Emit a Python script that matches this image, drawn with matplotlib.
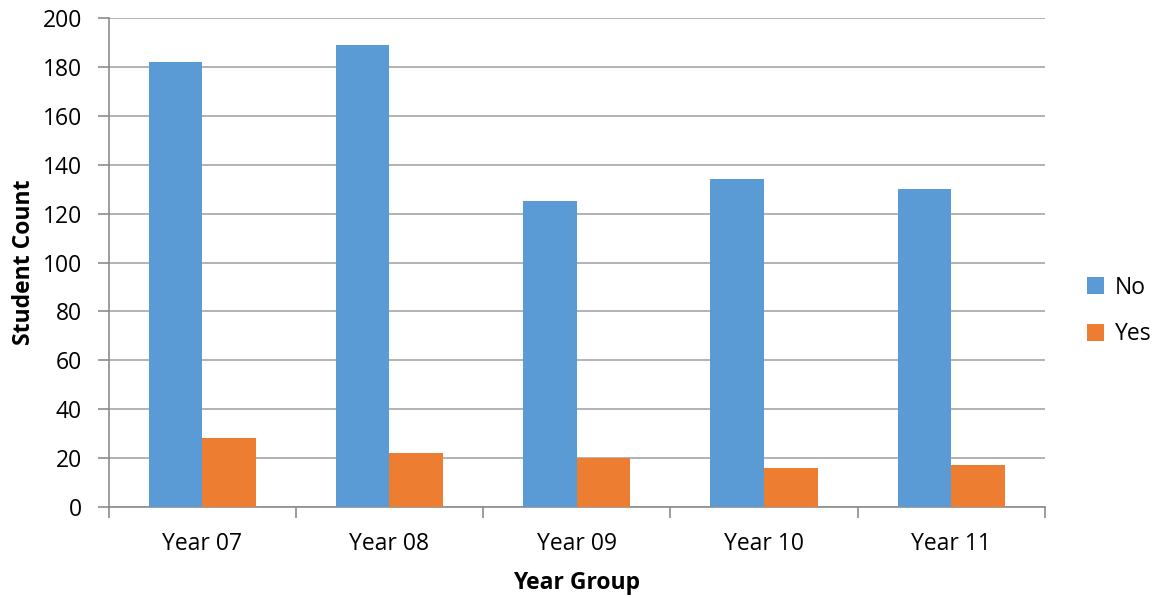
import numpy as np
import matplotlib
matplotlib.use("Agg")
import matplotlib.pyplot as plt

# data
groups = ["Year 07", "Year 08", "Year 09", "Year 10", "Year 11"]
no_counts = [182, 189, 125, 134, 130]
yes_counts = [28, 22, 20, 16, 17]

plt.rcParams['font.family'] = ['Open Sans', 'DejaVu Sans']
fs = 16.5

fig = plt.figure(figsize=(11.54, 5.98), dpi=100)
ax = fig.add_axes([108.5 / 1154, 1 - 506.7 / 598, (1045 - 108.5) / 1154, (506.7 - 18.3) / 598])

x = np.arange(len(groups))
w = 0.286
ax.bar(x - w / 2, no_counts, w, color='#5B9BD5', label='No', zorder=3)
ax.bar(x + w / 2, yes_counts, w, color='#ED7D31', label='Yes', zorder=3)

ax.set_xlim(-0.5, len(groups) - 0.5)
ax.set_ylim(0, 200)
ax.set_yticks(range(0, 201, 20))
ax.yaxis.grid(True, color='#A6A6A6', linewidth=1.2, zorder=0)

ax.set_xticks(x)
ax.set_xticklabels(groups, fontsize=fs)
ax.set_xticks(np.arange(-0.5, len(groups)), minor=True)
ax.tick_params(axis='x', which='major', length=0, pad=18)
ax.tick_params(axis='x', which='minor', length=8, color='#8C8C8C', width=1.2)
ax.tick_params(axis='y', length=8, color='#8C8C8C', width=1.2, labelsize=fs, pad=11)

for s in ['top', 'right']:
    ax.spines[s].set_visible(False)
for s in ['left', 'bottom']:
    ax.spines[s].set_color('#8C8C8C')
    ax.spines[s].set_linewidth(1.2)

ax.set_xlabel('Year Group', fontsize=fs, fontweight='bold', labelpad=11)
ax.set_ylabel('Student Count', fontsize=fs, fontweight='bold', labelpad=5)

fig.legend(*ax.get_legend_handles_labels(), loc='center left',
           bbox_to_anchor=(1087 / 1154, 1 - 311 / 598), frameon=False,
           borderpad=0, borderaxespad=0,
           fontsize=fs, handlelength=0.75, handleheight=0.75, handletextpad=0.45,
           labelspacing=1.0)

fig.savefig('out.png', dpi=100)
